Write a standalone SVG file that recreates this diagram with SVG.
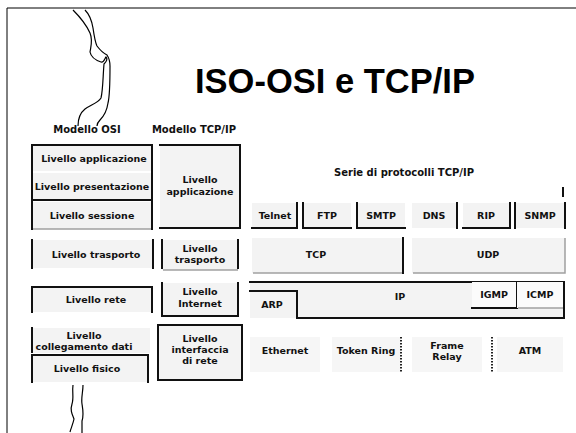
<svg xmlns="http://www.w3.org/2000/svg" width="576" height="433" viewBox="0 0 576 433">
<style>
.bx{fill:#f3f3f3;stroke:none}
.nb{fill:#f6f6f6;stroke:none}
.e{stroke:#111;stroke-width:2;fill:none;stroke-linecap:square}
.s{stroke:#a0a0a0;stroke-width:1.5;fill:none}
.d{stroke:#222;stroke-width:2;stroke-dasharray:1.5 1.5;fill:none}
.t{font-family:"DejaVu Sans",Verdana,sans-serif;font-weight:bold;font-size:9.5px;fill:#111;text-anchor:middle}
.h{font-family:"DejaVu Sans",Verdana,sans-serif;font-weight:bold;font-size:10px;fill:#111;text-anchor:middle}
.w{stroke:#000;stroke-width:1.2;fill:none}
</style>
<rect width="576" height="433" fill="#fff"/>
<path d="M7 433V8H576" stroke="#000" stroke-width="1" fill="none"/>
<g id="decor">
<path class="w" d="M73 10C79 16 86 24 90 33C93 40 91 46 90 52C91 57 95 60 101 62C104 63 105 58 106 57C108 59 106 62 104 64C103 75 103 90 101 98C98 103 90 105 85 109C80 113 78 119 78 126"/>
<path class="w" d="M85 10C90 15 92 22 93 28C94 35 95 42 97 46C100 50 103 53 107 55C109 58 110 62 110 66C110 80 110 95 108 103C107 110 105 115 100 120C98 122 97 124 97 126"/>
<path class="w" d="M73 385C72 392 74 398 72 404C70 410 72 414 74 419C73 424 71 428 70 432"/>
<path class="w" d="M83 385C83 392 81 398 82 404C83 410 84 415 82 421C82 426 82 430 82 433"/>
</g>
<text id="title" x="195" y="93" font-family="Liberation Sans,Arial,sans-serif" font-weight="bold" font-size="34.5" fill="#000">ISO-OSI e TCP/IP</text>
<text class="h" x="87" y="133">Modello OSI</text>
<text class="h" x="194" y="133">Modello TCP/IP</text>
<g id="osi-app"><rect class="bx" x="32" y="145" width="120" height="26"/><path class="e" d="M32 171V145H152V171"/><text class="t" x="94" y="162">Livello applicazione</text></g>
<g id="osi-pres"><rect class="bx" x="32" y="173" width="120" height="27"/><path class="e" d="M32 173V200H152V173"/><text class="t" x="92" y="190">Livello presentazione</text></g>
<g id="osi-sess"><rect class="bx" x="32" y="202" width="120" height="27"/><path class="e" d="M32 202V229M152 202V229"/><path class="s" d="M33 229H151"/><text class="t" x="92" y="219">Livello sessione</text></g>
<g id="osi-trasp"><rect class="bx" x="32" y="240" width="121" height="28"/><path class="e" d="M32 240V268M153 240V268"/><text class="t" x="96" y="258">Livello trasporto</text></g>
<g id="osi-rete"><rect class="bx" x="32" y="287" width="120" height="25"/><path class="e" d="M32 312V287H152V312"/><text class="t" x="96" y="303">Livello rete</text></g>
<g id="osi-coll"><rect class="bx" x="32" y="328" width="118" height="25"/><path class="e" d="M32 328V352"/><text class="t" x="84" y="339">Livello</text><text class="t" x="84" y="350">collegamento dati</text></g>
<g id="osi-fis"><rect class="bx" x="32" y="355" width="116" height="27"/><path class="e" d="M32 382V355H148V382"/><text class="t" x="87" y="372">Livello fisico</text></g>
<g id="tcp-app"><rect class="bx" x="160" y="145" width="80" height="83"/><path class="e" d="M160 145H240V228H160"/><text class="t" x="200" y="183">Livello</text><text class="t" x="200" y="195">applicazione</text></g>
<g id="tcp-trasp"><rect class="bx" x="162" y="240" width="76" height="30"/><path class="e" d="M162 240V268M238 240V268"/><path class="s" d="M163 270H238"/><text class="t" x="200" y="252">Livello</text><text class="t" x="200" y="263">trasporto</text></g>
<g id="tcp-inet"><rect class="bx" x="162" y="283" width="76" height="33"/><path class="e" d="M162 283V316H238V283"/><text class="t" x="200" y="295">Livello</text><text class="t" x="200" y="307">Internet</text></g>
<g id="tcp-net"><rect class="bx" x="158" y="325" width="84" height="55"/><path class="e" d="M158 325H242V380H158Z"/><text class="t" x="200" y="342">Livello</text><text class="t" x="200" y="353">interfaccia</text><text class="t" x="200" y="364">di rete</text></g>
<text id="suite" class="h" x="404" y="176">Serie di protocolli TCP/IP</text>
<path d="M563 188V196" class="e"/>
<g id="telnet"><rect class="bx" x="252" y="203" width="45" height="25"/><path class="e" d="M297 203V228H252"/><text class="t" x="275" y="219">Telnet</text></g>
<g id="ftp"><rect class="bx" x="303" y="203" width="48" height="25"/><path class="e" d="M303 203V228H351"/><text class="t" x="327" y="219">FTP</text></g>
<g id="smtp"><rect class="bx" x="357" y="203" width="48" height="25"/><path class="e" d="M357 203V228H405"/><text class="t" x="381" y="219">SMTP</text></g>
<g id="dns"><rect class="bx" x="412" y="203" width="45" height="25"/><path class="e" d="M457 203V228"/><text class="t" x="434" y="219">DNS</text></g>
<g id="rip"><rect class="bx" x="463" y="203" width="47" height="25"/><path class="e" d="M463 228H510V203"/><text class="t" x="486" y="219">RIP</text></g>
<g id="snmp"><rect class="bx" x="515" y="203" width="50" height="25"/><path class="e" d="M515 203V228M565 203V228"/><text class="t" x="540" y="219">SNMP</text></g>
<g id="tcp"><rect class="bx" x="252" y="238" width="151" height="35"/><path class="e" d="M403 238V273"/><path class="s" d="M253 273H402"/><text class="t" x="316" y="258">TCP</text></g>
<g id="udp"><rect class="bx" x="412" y="238" width="153" height="35"/><path class="s" d="M413 273H565V238"/><text class="t" x="488" y="258">UDP</text></g>
<g id="ip"><rect class="bx" x="250" y="282" width="314" height="36"/><path class="e" d="M250 282H564V318H297"/><text class="t" x="400" y="300">IP</text></g>
<g id="arp"><rect class="bx" x="250" y="291" width="47" height="27" fill="#fafafa"/><path class="e" d="M250 291H297V318"/><text class="t" x="272" y="308">ARP</text></g>
<g id="igmp"><rect x="472" y="282" width="45" height="26" fill="#fbfbfb"/><path class="e" d="M472 308H517V282"/><text class="t" x="494" y="298">IGMP</text></g>
<g id="icmp"><rect x="517" y="282" width="46" height="26" fill="#fbfbfb"/><path class="s" d="M518 308H563"/><text class="t" x="540" y="298">ICMP</text></g>
<g id="ethernet"><rect class="nb" x="250" y="337" width="70" height="35"/><text class="t" x="285" y="354">Ethernet</text></g>
<g id="tokenring"><rect class="nb" x="332" y="337" width="69" height="35"/><path class="d" d="M401 337V372"/><text class="t" x="366" y="354">Token Ring</text></g>
<g id="framerelay"><rect class="nb" x="412" y="337" width="70" height="35"/><path class="d" d="M492 337V372"/><text class="t" x="447" y="349">Frame</text><text class="t" x="447" y="360">Relay</text></g>
<g id="atm"><rect class="nb" x="497" y="337" width="66" height="35"/><text class="t" x="530" y="354">ATM</text></g>
<g id="connectors"></g>
</svg>
